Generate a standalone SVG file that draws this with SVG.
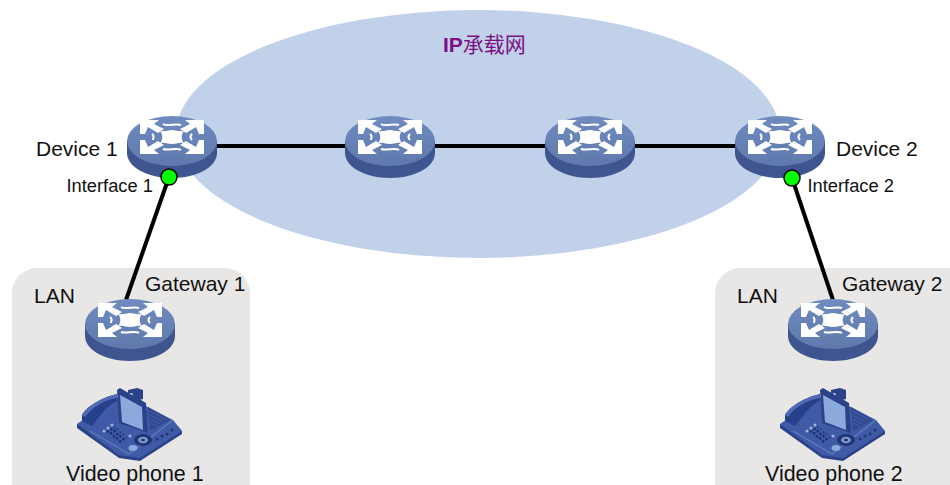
<svg xmlns="http://www.w3.org/2000/svg" width="950" height="485" viewBox="0 0 950 485">
  <style>
    text { font-family: "Liberation Sans", Arial, sans-serif; fill: #111; }
    .big { font-size: 21px; }
    .wide { font-size: 21.400px; }
    .small { font-size: 18.300px; }
    .link { stroke: #000; stroke-width: 4; fill: none; }
    .port { fill: #00ff00; stroke: #000; stroke-width: 1.5; }
    .lan { fill: #e8e7e6; }
  </style>
  <defs>
    <linearGradient id="top" x1="0" y1="0" x2="0" y2="1">
      <stop offset="0" stop-color="#6f8bbf"/>
      <stop offset="1" stop-color="#5f79ad"/>
    </linearGradient>
    <!-- one corner arrow of the switch mark; the others are mirrored -->
    <path id="arrow-mark" d="M-32-17 H-13 L-18-13 L-8-8 L-14-4 L-24-10 L-27-3 H-32 Z"/>
    <symbol id="router" overflow="visible">
      <path d="M-45 0 V13 C-45 27 -25 38 0 38 C25 38 45 27 45 13 V0 Z" fill="#3f5590"/>
      <ellipse cx="0" cy="1" rx="45" ry="25" fill="url(#top)"/>
      <g transform="translate(0 -3)">
        <g fill="#fff">
          <use href="#arrow-mark"/>
          <use href="#arrow-mark" transform="scale(-1 1)"/>
          <use href="#arrow-mark" transform="scale(1 -1)"/>
          <use href="#arrow-mark" transform="scale(-1 -1)"/>
          <path d="M-12-6 C-7-5 -4-7 0-7 C4-7 7-5 12-6 C9-3 9 3 12 6 C7 5 4 7 0 7 C-4 7 -7 5 -12 6 C-9 3 -9-3 -12-6 Z"/>
        </g>
        <g fill="none" stroke="#fff" stroke-width="2">
          <path d="M-9-13 C-5-10 4-14 9-12"/>
          <path d="M-9 12 C-4 14 5 10 9 13"/>
          <path d="M-20-3 C-17-1 -19 1 -19 3"/>
          <path d="M20-3 C18-1 18 1 20 3"/>
        </g>
      </g>
    </symbol>
    <symbol id="phone" overflow="visible">
      <!-- base -->
      <path d="M-60-10 V-6 L-18 24 L3 27 L45 0 V-3 Z" fill="#2b4288"/>
      <path d="M-60-10 L-20-37 L11-27 L36-14 L45-3 L3 24 L-18 21 Z" fill="#3f5ba6"/>
      <path d="M-47-3 L-8 20 L36-14" fill="none" stroke="#5f7cc2" stroke-width="1.200"/>
      <!-- speaker grille -->
      <path d="M11-27 L33-14 L13-3 Z" fill="#32498f"/>
      <path d="M13-23 L29-14 M13-19 L26-12 M13-15 L23-10 M13-11 L20-8" stroke="#4a63a8" stroke-width=".8" fill="none"/>
      <!-- handset -->
      <path d="M-20-40 C-34-37 -50-28 -55-19 V-13 L-45-8 L-34-22 C-30-27 -25-31 -20-33 Z" fill="#27408a"/>
      <path d="M-20-40 C-34-37 -50-28 -55-19 L-52-17 C-46-26 -33-34 -20-36 Z" fill="#4f6bb5"/>
      <!-- keypad -->
      <g stroke="#1c2f70" stroke-width="2.400" stroke-dasharray="2.400 1.800" fill="none">
        <path d="M-30-2 L-22-7"/><path d="M-27 0 L-19-5"/>
        <path d="M-24 3 L-16-2"/><path d="M-21 5 L-13 0"/>
        <path d="M-18 8 L-10 3"/>
      </g>
      <g fill="#9fb4dc">
        <circle cx="-33" cy="-3" r="1.500"/><circle cx="-29" cy="-6" r="1.500"/><circle cx="-25" cy="-9" r="1.500"/>
        <circle cx="-7" cy="2" r="1.500"/>
      </g>
      <!-- controls -->
      <ellipse cx="6" cy="6" rx="9" ry="6" fill="#1f3578"/>
      <ellipse cx="6" cy="6" rx="5" ry="3.200" fill="#8397c6"/>
      <ellipse cx="6" cy="6" rx="2" ry="1.300" fill="#1f3578"/>
      <ellipse cx="-4" cy="14" rx="4.500" ry="3" fill="#8ba9dc"/>
      <g fill="#1f3578">
        <circle cx="20" cy="5" r="1.500"/><circle cx="25" cy="2" r="1.500"/>
        <circle cx="30" cy="0" r="1.500"/><circle cx="35" cy="-4" r="1.500"/>
      </g>
      <!-- screen and camera -->
      <path d="M-9-44 L0-46 L6-44 V-35 L-1-33 L-9-39 Z" fill="#2b4288"/>
      <circle cx="-6" cy="-39" r="2" fill="#cfd8ea"/>
      <path d="M-20-44 L-17-46 L9-31 L11-1 L-18-11 Z" fill="#2b4288"/>
      <path d="M-17-39 L5-27 L6-4 L-15-12 Z" fill="#8ba9dc"/>
    </symbol>
  </defs>

  <ellipse id="ip-network" cx="478" cy="134" rx="302" ry="124" fill="#c2d1ea"/>
  <rect id="lan-1" class="lan" x="12" y="268" width="238" height="240" rx="25"/>
  <rect id="lan-2" class="lan" x="715" y="268" width="260" height="240" rx="25"/>

  <g id="connectors">
    <path class="link" d="M172 146 H780"/>
    <path class="link" d="M169 177 L126 300"/>
    <path class="link" d="M792 178 L833 300"/>
  </g>

  <g id="device-1"><use href="#router" x="172" y="140"/><text class="big" x="36" y="156">Device 1</text></g>
  <g id="router-a"><use href="#router" x="390" y="140"/></g>
  <g id="router-b"><use href="#router" x="590" y="140"/></g>
  <g id="device-2"><use href="#router" x="780" y="140"/><text class="big" x="836" y="156">Device 2</text></g>

  <g id="port-1"><circle class="port" cx="169" cy="177" r="8"/><text class="small" x="66.500" y="192">Interface 1</text></g>
  <g id="port-2"><circle class="port" cx="792" cy="178" r="8"/><text class="small" x="807.500" y="192">Interface 2</text></g>

  <g id="gateway-1"><use href="#router" x="130" y="323"/><text class="big" x="145" y="291">Gateway 1</text><text class="big" x="34" y="303">LAN</text></g>
  <g id="gateway-2"><use href="#router" x="833" y="323"/><text class="big" x="842" y="291">Gateway 2</text><text class="big" x="737" y="303">LAN</text></g>

  <g id="phone-1"><use href="#phone" x="137" y="434"/><text class="wide" x="66" y="481">Video phone 1</text></g>
  <g id="phone-2"><use href="#phone" x="840" y="434"/><text class="wide" x="765" y="481">Video phone 2</text></g>

  <text id="network-label" x="443" y="52" font-size="21" style="fill:#7b0f84;font-family:'Liberation Sans','Noto Sans CJK SC',sans-serif"><tspan font-weight="bold">IP</tspan>承载网</text>
</svg>
